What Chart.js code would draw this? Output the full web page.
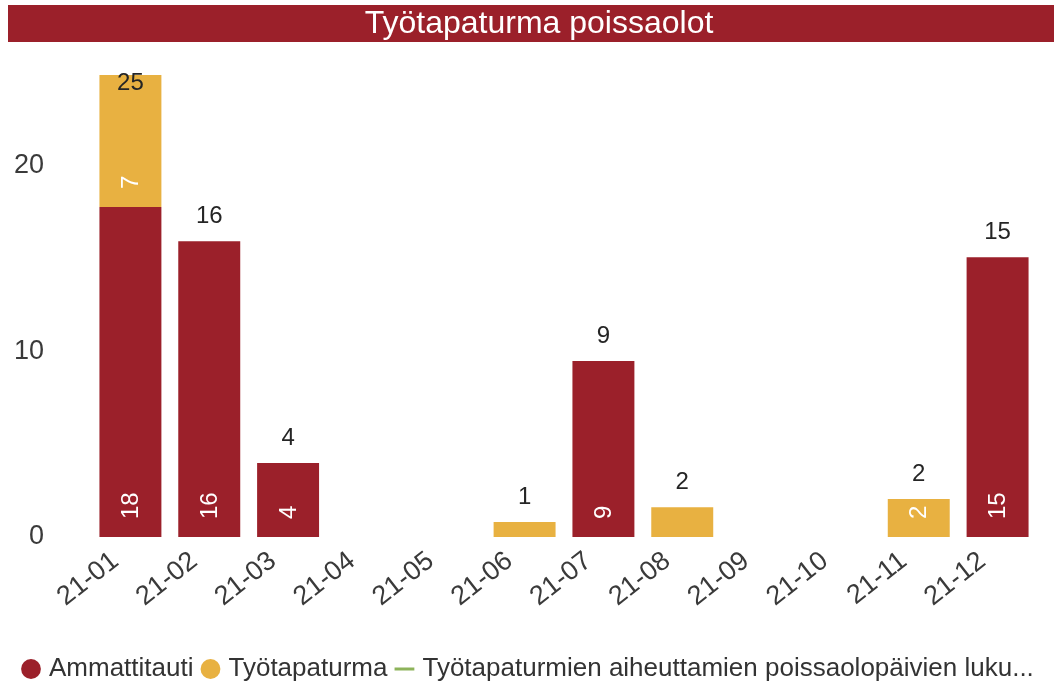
<!DOCTYPE html>
<html><head><meta charset="utf-8">
<script src="https://cdn.jsdelivr.net/npm/chart.js@4.4.1/dist/chart.umd.min.js"></script>
<style>html,body{margin:0;padding:0;background:#fff;overflow:hidden;}</style>
</head><body>
<canvas id="c" width="1054" height="699"></canvas>
<script>
const titleText = 'Työtapaturma poissaolot';
const categories = ['21-01','21-02','21-03','21-04','21-05','21-06','21-07','21-08','21-09','21-10','21-11','21-12'];
const ammattitauti = [17.75, 15.9, 3.98, null, null, null, 9.46, null, null, null, null, 15.05];
const tyotapaturma = [7.1, null, null, null, null, 0.8, null, 1.6, null, null, 2.04, null];
const poissaolopaivat = [null, null, null, null, null, null, null, null, null, null, null, null];
const seriesNames = ['Ammattitauti', 'Työtapaturma', 'Työtapaturmien aiheuttamien poissaolopäivien luku...'];
const yTicks = [0, 10, 20];

const RED = '#9B202A', GOLD = '#E8B141', GREEN = '#8DB35A';
const FONT = "'Liberation Sans', Arial, sans-serif";

const titleBar = {
  id: 'titleBar',
  beforeDraw(chart) {
    const tb = chart.titleBlock;
    const ctx = chart.ctx;
    ctx.save();
    ctx.fillStyle = RED;
    ctx.fillRect(8, tb.top, chart.width - 8, 37);
    ctx.fillStyle = '#ffffff';
    ctx.font = '32px ' + FONT;
    ctx.textAlign = 'center';
    ctx.textBaseline = 'middle';
    ctx.fillText(titleText, 539, tb.top + 19);
    ctx.restore();
  }
};

const dataLabels = {
  id: 'dataLabels',
  afterDatasetsDraw(chart) {
    const ctx = chart.ctx;
    const area = chart.chartArea;
    ctx.save();
    [0, 1].forEach(di => {
      const meta = chart.getDatasetMeta(di);
      const vals = chart.data.datasets[di].data;
      meta.data.forEach((el, i) => {
        const v = vals[i];
        if (v == null) return;
        const h = el.base - el.y;
        if (h < 34) return;
        ctx.save();
        ctx.translate(el.x, el.base - 18);
        ctx.rotate(-Math.PI / 2);
        ctx.fillStyle = '#ffffff';
        ctx.font = '24px ' + FONT;
        ctx.textAlign = 'left';
        ctx.textBaseline = 'middle';
        ctx.fillText(String(Math.round(v)), 0, 1);
        ctx.restore();
      });
    });
    const m0 = chart.getDatasetMeta(0), m1 = chart.getDatasetMeta(1);
    categories.forEach((c, i) => {
      const total = (ammattitauti[i] || 0) + (tyotapaturma[i] || 0);
      if (!total) return;
      const els = [];
      if (ammattitauti[i] != null) els.push(m0.data[i]);
      if (tyotapaturma[i] != null) els.push(m1.data[i]);
      const top = Math.min(...els.map(e => e.y));
      const x = els[0].x;
      let y = top - 25;
      if (y - 12 < area.top) y = top + 8;
      ctx.fillStyle = '#252525';
      ctx.font = '24px ' + FONT;
      ctx.textAlign = 'center';
      ctx.textBaseline = 'middle';
      ctx.fillText(String(Math.round(total)), x, y);
    });
    ctx.restore();
  }
};

new Chart(document.getElementById('c'), {
  type: 'bar',
  data: {
    labels: categories,
    datasets: [
      { label: seriesNames[0], data: ammattitauti, backgroundColor: RED, borderWidth: 0,
        categoryPercentage: 1, barPercentage: 0.786, pointStyle: 'circle', order: 2 },
      { label: seriesNames[1], data: tyotapaturma, backgroundColor: GOLD, borderWidth: 0,
        categoryPercentage: 1, barPercentage: 0.786, pointStyle: 'circle', order: 2 },
      { type: 'line', label: seriesNames[2], data: poissaolopaivat, borderColor: GREEN,
        backgroundColor: GREEN, borderWidth: 3, pointStyle: 'line', stack: 'line', order: 1 }
    ]
  },
  options: {
    responsive: false,
    animation: false,
    events: [],
    layout: { padding: { left: 14, right: 0, top: 5, bottom: 7 } },
    plugins: {
      title: {
        display: true, text: titleText, color: 'rgba(0,0,0,0)',
        font: { family: FONT, size: 32, weight: 'normal', lineHeight: 1.16 },
        padding: { top: 0, bottom: 30 }
      },
      legend: {
        display: true, position: 'bottom', align: 'start',
        labels: {
          usePointStyle: true, boxWidth: 10, boxHeight: 14, padding: 12,
          color: '#333333', font: { family: FONT, size: 26 },
          sort: (a, b) => a.datasetIndex - b.datasetIndex
        }
      },
      tooltip: { enabled: false }
    },
    scales: {
      x: {
        stacked: true,
        grid: { display: false, drawTicks: false },
        border: { display: false },
        ticks: {
          autoSkip: false, minRotation: 38, maxRotation: 38, padding: 8, labelOffset: -15,
          color: '#3a3a3a', font: { family: FONT, size: 27 }
        },
        afterFit(s) { s.height = 107; }
      },
      y: {
        stacked: true, min: 0, max: 25,
        grid: { display: false, drawTicks: false },
        border: { display: false },
        ticks: {
          stepSize: 10, includeBounds: false, padding: 47,
          color: '#3a3a3a', font: { family: FONT, size: 27 },
          callback: v => yTicks.includes(v) ? String(v) : ''
        },
        afterFit(s) { s.width = 77; }
      },
      yRight: {
        type: 'linear', position: 'right', display: true,
        grid: { display: false, drawTicks: false },
        border: { display: false },
        ticks: { display: false },
        afterFit(s) { s.width = 17; }
      }
    }
  },
  plugins: [titleBar, dataLabels]
});
</script>
</body></html>
